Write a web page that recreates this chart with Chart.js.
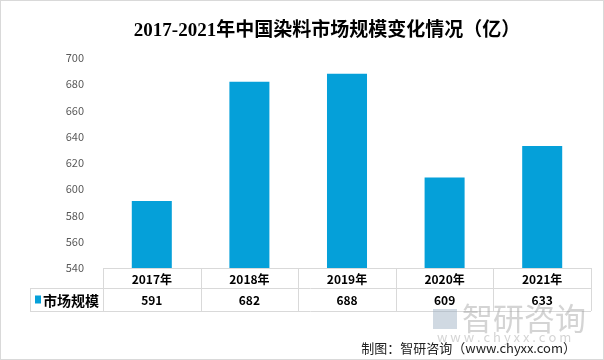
<!DOCTYPE html>
<html>
<head>
<meta charset="utf-8">
<script src="https://cdn.jsdelivr.net/npm/chart.js@4/dist/chart.umd.min.js"></script>
<style>
  html, body { margin: 0; padding: 0; background: #fff; }
  #wrap { width: 604px; height: 360px; position: relative; box-sizing: border-box; border: 1px solid #d9d9d9; }
  canvas { display: block; }
</style>
</head>
<body>
<div id="wrap"><canvas id="dyeChart" width="602" height="358"></canvas></div>
<script>
const years = ["2017年", "2018年", "2019年", "2020年", "2021年"];
const marketSize = [591, 682, 688, 609, 633];
const seriesName = "市场规模";
const titleText = "2017-2021年中国染料市场规模变化情况（亿）";
const sourceText = "制图：智研咨询（www.chyxx.com）";

const barColor = "#05a0d9";
const lineColor = "#d9d9d9";
const cjk = "'Noto Sans CJK SC', 'Noto Sans', sans-serif";

// title, table under the plot, watermark + source
const dataTable = {
    id: "dataTable",
    afterDraw(chart) {
        const ctx = chart.ctx;
        const x = chart.scales.x;
        const area = chart.chartArea;
        const step = (area.right - area.left) / years.length;
        const row1 = area.bottom, row2 = row1 + 20, row3 = row2 + 23;
        const tableLeft = 29;

        ctx.save();
        ctx.fillStyle = "#000";
        ctx.textAlign = "center";
        ctx.textBaseline = "middle";
        ctx.font = "bold 19px 'Liberation Serif', 'Noto Sans CJK SC', serif";
        ctx.fillText(titleText, 326, 30);

        ctx.strokeStyle = lineColor;
        ctx.lineWidth = 1;
        ctx.beginPath();
        ctx.moveTo(area.left, row1 + 0.5); ctx.lineTo(area.right, row1 + 0.5);
        ctx.moveTo(tableLeft, row2 + 0.5); ctx.lineTo(area.right, row2 + 0.5);
        ctx.moveTo(tableLeft, row3 + 0.5); ctx.lineTo(area.right, row3 + 0.5);
        for (let i = 0; i <= years.length; i++) {
            const px = Math.round(area.left + i * step) + 0.5;
            ctx.moveTo(px, row1); ctx.lineTo(px, row3);
        }
        ctx.moveTo(tableLeft + 0.5, row2); ctx.lineTo(tableLeft + 0.5, row3);
        ctx.stroke();

        ctx.font = "bold 12px " + cjk;
        years.forEach((y, i) => {
            const cx = x.getPixelForValue(i);
            ctx.fillText(y, cx, (row1 + row2) / 2 + 1);
            ctx.fillText(String(marketSize[i]), cx, (row2 + row3) / 2 + 1);
        });

        ctx.fillStyle = barColor;
        ctx.fillRect(34, (row2 + row3) / 2 - 4, 6, 8);
        ctx.fillStyle = "#000";
        ctx.textAlign = "left";
        ctx.font = "bold 14px " + cjk;
        ctx.fillText(seriesName, 42, (row2 + row3) / 2 + 1);

        // watermark
        ctx.fillStyle = "rgba(150,170,190,0.45)";
        ctx.fillRect(432, 308, 24, 20);
        ctx.fillStyle = "rgba(160,160,160,0.45)";
        ctx.font = "31px " + cjk;
        ctx.fillText("智研咨询", 461, 317);
        ctx.font = "13px " + cjk;
        ctx.fillText("w w w . c h y x x . c o m", 436, 336);

        ctx.fillStyle = "#222";
        ctx.font = "13px " + cjk;
        ctx.textAlign = "right";
        ctx.fillText(sourceText, 575, 347);
        ctx.restore();
    }
};

new Chart(document.getElementById("dyeChart"), {
    type: "bar",
    data: {
        labels: years,
        datasets: [{
            label: seriesName,
            data: marketSize,
            backgroundColor: barColor,
            barPercentage: 0.41,
            categoryPercentage: 1
        }]
    },
    options: {
        responsive: false,
        animation: false,
        layout: { padding: { left: 0, right: 12, top: 57, bottom: 91 } },
        plugins: {
            legend: { display: false },
            tooltip: { enabled: false },
            title: { display: false }
        },
        scales: {
            x: { display: false },
            y: {
                min: 540,
                max: 700,
                ticks: { stepSize: 20, padding: 11, color: "#595959", font: { family: cjk, size: 11 } },
                grid: { display: false },
                border: { display: false },
                afterFit(scale) { scale.width = 102; }
            }
        }
    },
    plugins: [dataTable]
});
</script>
</body>
</html>
